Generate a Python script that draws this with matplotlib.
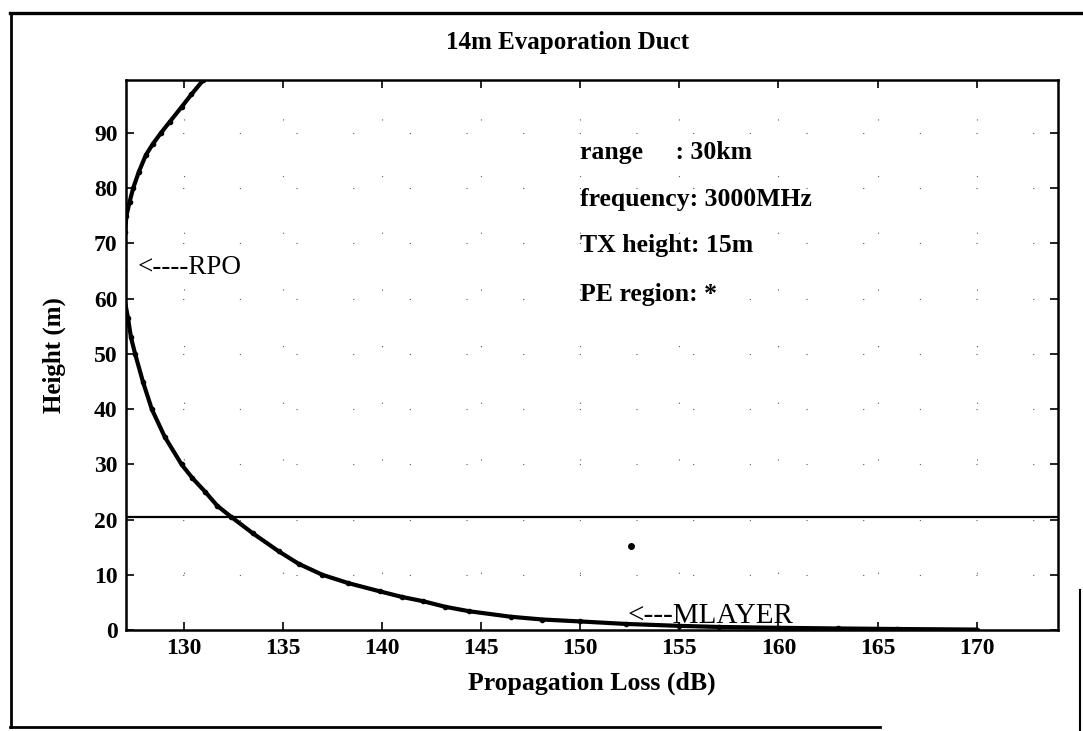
import matplotlib
matplotlib.use("Agg")
import matplotlib.pyplot as plt
from matplotlib.lines import Line2D

# ---- data ----
loss_db = [131.0, 130.4, 129.9, 129.3, 128.86, 128.45, 128.1, 127.75, 127.46,
           127.28, 127.12, 127.05, 127.0, 127.0, 127.02, 127.2, 127.35, 127.56,
           127.95, 128.4, 129.05, 129.9, 130.45, 131.1, 131.7, 132.4, 133.5,
           134.8, 135.8, 137.0, 138.3, 139.9, 141.0, 142.1, 143.2, 144.4,
           146.5, 148.1, 150.0, 152.3, 155.0, 157.0, 160.0, 163.0, 166.0, 170.0]
height_m = [99.6, 97.0, 94.7, 92.0, 90.0, 88.0, 86.0, 83.0, 80.0,
            77.5, 75.0, 72.0, 70.0, 65.0, 60.0, 56.5, 53.0, 50.0,
            45.0, 40.0, 35.0, 30.0, 27.5, 25.0, 22.5, 20.5, 17.5,
            14.25, 12.0, 10.0, 8.5, 7.0, 6.0, 5.2, 4.2, 3.4,
            2.4, 1.9, 1.55, 1.1, 0.75, 0.55, 0.4, 0.28, 0.18, 0.08]
mlayer_height = 20.5
pe_point_x = [152.55]
pe_point_y = [15.2]
xticks = [130, 135, 140, 145, 150, 155, 160, 165, 170]
yticks = [0, 10, 20, 30, 40, 50, 60, 70, 80, 90]
info_lines = ["range     : 30km", "frequency: 3000MHz", "TX height: 15m", "PE region: *"]
info_y = [86.4, 78.0, 69.6, 60.8]

plt.rcParams['font.family'] = ['Liberation Serif', 'DejaVu Serif']
plt.rcParams['font.weight'] = 'bold'

W, H = 1083, 731
fig = plt.figure(figsize=(W / 100, H / 100), dpi=100)
ax = fig.add_axes([126 / W, 1 - 630 / H, (1058 - 126) / W, (630 - 80) / H])

ax.plot(loss_db, height_m, color='black', lw=3.0, marker='.', ms=6,
        solid_joinstyle='round', solid_capstyle='round')
ax.axhline(mlayer_height, color='black', lw=1.6)
ax.plot(pe_point_x, pe_point_y, 'o', color='black', ms=4)

ax.set_xlim(127.1, 174.1)
ax.set_ylim(0, 99.6)
ax.set_xticks(xticks)
ax.set_yticks(yticks)
ax.tick_params(direction='in', top=True, right=True, length=6, width=1.2,
               labelsize=17, pad=6)
for lab in ax.get_xticklabels() + ax.get_yticklabels():
    lab.set_fontweight('bold')
for s in ax.spines.values():
    s.set_linewidth(1.8)
ax.grid(True, color='0.35', linestyle=(0, (1, 50)), linewidth=0.8)

ax.set_xlabel("Propagation Loss (dB)", fontsize=18.5, fontweight='bold', labelpad=9)
ax.set_ylabel("Height (m)", fontsize=18, fontweight='bold', labelpad=20)

for t, y in zip(info_lines, info_y):
    ax.text(150.0, y, t, fontsize=18.5, fontweight='bold', va='center', ha='left')

ax.text(127.7, 65.6, "<----RPO", fontsize=19.5, va='center', ha='left', fontweight='normal')
ax.text(152.4, 2.6, "<---MLAYER", fontsize=21, va='center', ha='left', fontweight='normal')

fig.text(568 / W, 1 - 42 / H, "14m Evaporation Duct", fontsize=18, fontweight='bold',
         ha='center', va='center')

# figure frame
lw = 2.0
fig.add_artist(Line2D([10 / W, 1.0], [1 - 13 / H] * 2, color='black', lw=2.4, transform=fig.transFigure))
fig.add_artist(Line2D([11 / W] * 2, [1 - 13 / H, 1 - 727 / H], color='black', lw=lw, transform=fig.transFigure))
fig.add_artist(Line2D([10 / W, 880 / W], [1 - 727 / H] * 2, color='black', lw=lw, transform=fig.transFigure))
fig.add_artist(Line2D([1080 / W] * 2, [1 - 590 / H, 0.0], color='black', lw=1.5, transform=fig.transFigure))

fig.savefig("out.png", dpi=100)
